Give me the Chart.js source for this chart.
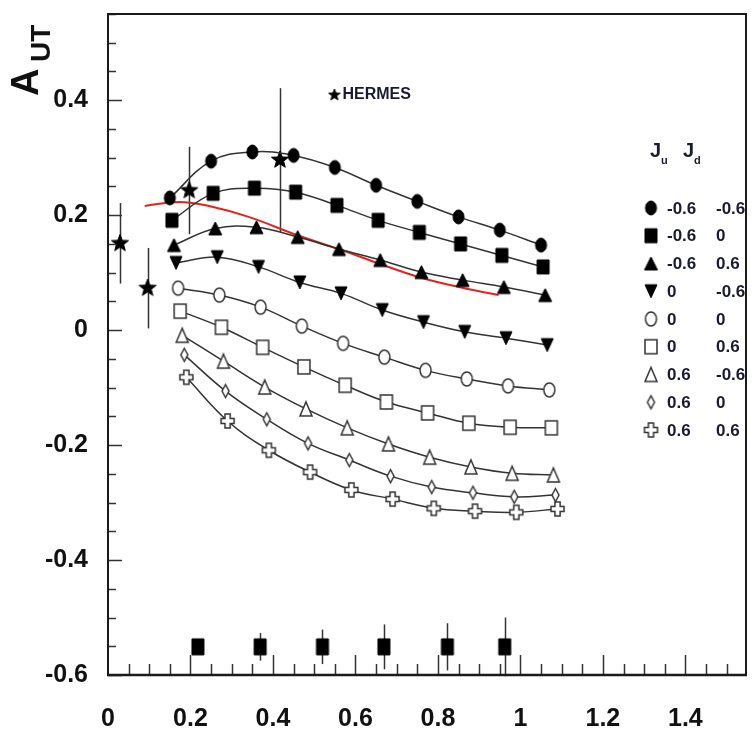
<!DOCTYPE html>
<html>
<head>
<meta charset="utf-8">
<script src="https://cdn.jsdelivr.net/npm/chart.js@4.4.1/dist/chart.umd.min.js"></script>
<style>
  html, body { margin: 0; padding: 0; background: #fff; }
  #wrap { width: 756px; height: 743px; }
</style>
</head>
<body>
<div id="wrap"><canvas id="chart" width="756" height="743"></canvas></div>
<script>
// model curves: common x grid, each curve drawn a little to the right of the previous one
const xModel = [0.15, 0.25, 0.35, 0.45, 0.55, 0.65, 0.75, 0.85, 0.95, 1.05];
const xShift = [0, 0.005, 0.01, 0.015, 0.02, 0.025, 0.03, 0.035, 0.04];

// legend values (J_u, J_d) for each curve
const jU = ['-0.6', '-0.6', '-0.6', '0', '0', '0', '0.6', '0.6', '0.6'];
const jD = ['-0.6', '0', '0.6', '-0.6', '0', '0.6', '-0.6', '0', '0.6'];

const aMM = [0.230, 0.294, 0.310, 0.304, 0.283, 0.252, 0.224, 0.197, 0.174, 0.148];
const aM0 = [0.191, 0.238, 0.247, 0.240, 0.217, 0.191, 0.170, 0.150, 0.130, 0.110];
const aMP = [0.148, 0.177, 0.179, 0.162, 0.141, 0.122, 0.101, 0.087, 0.075, 0.061];
const a0M = [0.117, 0.127, 0.110, 0.083, 0.064, 0.035, 0.014, -0.003, -0.014, -0.026];
const a00 = [0.073, 0.061, 0.040, 0.007, -0.023, -0.047, -0.070, -0.085, -0.097, -0.104];
const a0P = [0.033, 0.005, -0.030, -0.064, -0.096, -0.125, -0.144, -0.162, -0.169, -0.170];
const aPM = [-0.009, -0.054, -0.099, -0.137, -0.170, -0.198, -0.221, -0.238, -0.249, -0.252];
const aP0 = [-0.043, -0.106, -0.155, -0.197, -0.226, -0.254, -0.273, -0.283, -0.290, -0.287];
const aPP = [-0.082, -0.158, -0.209, -0.247, -0.278, -0.294, -0.310, -0.315, -0.317, -0.311];

// red curve
const redX = [0.089, 0.173, 0.245, 0.341, 0.460, 0.580, 0.652, 0.755, 0.851, 0.947];
const redY = [0.216, 0.223, 0.216, 0.197, 0.165, 0.136, 0.117, 0.092, 0.075, 0.061];

// HERMES points
const hermesX = [0.029, 0.096, 0.197, 0.417];
const hermesY = [0.151, 0.073, 0.243, 0.296];
const hermesErr = [0.070, 0.070, 0.076, 0.125];

// squares along the bottom
const binX = [0.218, 0.369, 0.520, 0.669, 0.823, 0.962];
const binY = [-0.551, -0.551, -0.551, -0.551, -0.551, -0.551];
const binErr = [0.012, 0.024, 0.030, 0.039, 0.041, 0.051];

const xTicks = [0, 0.2, 0.4, 0.6, 0.8, 1, 1.2, 1.4];
const xTickLabels = ['0', '0.2', '0.4', '0.6', '0.8', '1', '1.2', '1.4'];
const yTicks = [-0.6, -0.4, -0.2, 0, 0.2, 0.4];
const yTickLabels = ['-0.6', '-0.4', '-0.2', '0', '0.2', '0.4'];

function marker(shape, w, h, filled) {
  const pad = 3;
  const c = document.createElement('canvas');
  c.width = w + pad * 2;
  c.height = h + pad * 2;
  const g = c.getContext('2d');
  g.translate(c.width / 2, c.height / 2);
  const hw = w / 2, hh = h / 2;
  g.beginPath();
  if (shape === 'circle') {
    g.ellipse(0, 0, hw, hh, 0, 0, Math.PI * 2);
  } else if (shape === 'square') {
    g.rect(-hw, -hh, w, h);
  } else if (shape === 'up') {
    g.moveTo(0, -hh); g.lineTo(hw, hh); g.lineTo(-hw, hh); g.closePath();
  } else if (shape === 'down') {
    g.moveTo(0, hh); g.lineTo(hw, -hh); g.lineTo(-hw, -hh); g.closePath();
  } else if (shape === 'diamond') {
    g.moveTo(0, -hh); g.lineTo(hw, 0); g.lineTo(0, hh); g.lineTo(-hw, 0); g.closePath();
  } else if (shape === 'cross') {
    const t = w * 0.2, s = h * 0.18;
    g.moveTo(-t, -hh); g.lineTo(t, -hh); g.lineTo(t, -s); g.lineTo(hw, -s);
    g.lineTo(hw, s); g.lineTo(t, s); g.lineTo(t, hh); g.lineTo(-t, hh);
    g.lineTo(-t, s); g.lineTo(-hw, s); g.lineTo(-hw, -s); g.lineTo(-t, -s); g.closePath();
  } else if (shape === 'star') {
    for (let i = 0; i < 10; i++) {
      const r = i % 2 === 0 ? hw : hw * 0.42;
      const a = -Math.PI / 2 + i * Math.PI / 5;
      if (i === 0) g.moveTo(r * Math.cos(a), r * Math.sin(a));
      else g.lineTo(r * Math.cos(a), r * Math.sin(a));
    }
    g.closePath();
  }
  g.fillStyle = filled ? '#000' : '#fff';
  g.fill();
  g.lineWidth = filled ? 1 : 1.5;
  g.strokeStyle = filled ? '#000' : '#333';
  g.stroke();
  return c;
}

const markers = [
  marker('circle', 11, 14, true),
  marker('square', 12, 14, true),
  marker('up', 13, 13, true),
  marker('down', 12, 13, true),
  marker('circle', 11, 14, false),
  marker('square', 12, 14, false),
  marker('up', 12, 14, false),
  marker('diamond', 7, 13, false),
  marker('cross', 13, 14, false)
];
const starMarker = marker('star', 18, 18, true);
const smallStar = marker('star', 12, 12, true);
const binMarker = marker('square', 12, 16, true);

const curves = [aMM, aM0, aMP, a0M, a00, a0P, aPM, aP0, aPP];

const datasets = curves.map((vals, k) => ({
  label: 'Ju=' + jU[k] + ' Jd=' + jD[k],
  data: vals.map((v, i) => ({ x: xModel[i] + xShift[k], y: v })),
  showLine: true,
  borderColor: '#333',
  borderWidth: 1.5,
  tension: 0.4,
  pointStyle: markers[k],
  pointRadius: 7
}));

datasets.push({
  label: 'red',
  data: redX.map((x, i) => ({ x: x, y: redY[i] })),
  showLine: true,
  borderColor: '#e3241c',
  borderWidth: 2,
  tension: 0.4,
  pointRadius: 0
});

datasets.push({
  label: 'HERMES',
  data: hermesX.map((x, i) => ({ x: x, y: hermesY[i] })),
  errors: hermesErr,
  showLine: false,
  pointStyle: starMarker,
  pointRadius: 9
});

datasets.push({
  label: 'bins',
  data: binX.map((x, i) => ({ x: x, y: binY[i] })),
  errors: binErr,
  showLine: false,
  pointStyle: binMarker,
  pointRadius: 8
});

const decorations = {
  id: 'decorations',
  beforeDatasetsDraw(chart) {
    const g = chart.ctx;
    const xs = chart.scales.x, ys = chart.scales.y;
    g.save();
    g.strokeStyle = '#333';
    g.lineWidth = 1.5;
    chart.data.datasets.forEach(ds => {
      if (!ds.errors) return;
      ds.data.forEach((p, i) => {
        const px = Math.round(xs.getPixelForValue(p.x)) + 0.5;
        g.beginPath();
        g.moveTo(px, ys.getPixelForValue(p.y + ds.errors[i]));
        g.lineTo(px, ys.getPixelForValue(p.y - ds.errors[i]));
        g.stroke();
      });
    });
    g.restore();
  },
  afterDraw(chart) {
    const g = chart.ctx;
    const a = chart.chartArea;
    const xs = chart.scales.x, ys = chart.scales.y;
    g.save();
    // inward ticks
    g.strokeStyle = '#333';
    g.lineWidth = 1.5;
    for (let i = 0; i * 0.05 <= ys.max - ys.min + 1e-9; i++) {
      const v = ys.min + i * 0.05;
      const py = Math.round(ys.getPixelForValue(v)) + 0.5;
      const len = i % 4 === 0 ? 14 : 8;
      g.beginPath(); g.moveTo(a.left, py); g.lineTo(a.left + len, py); g.stroke();
    }
    for (let i = 1; i * 0.05 <= xs.max + 1e-9; i++) {
      const px = Math.round(xs.getPixelForValue(i * 0.05)) + 0.5;
      const len = i % 4 === 0 ? 20 : 11;
      g.beginPath(); g.moveTo(px, a.bottom); g.lineTo(px, a.bottom - len); g.stroke();
    }
    // frame
    g.strokeStyle = '#1a1a1a';
    g.lineWidth = 2;
    g.strokeRect(a.left, a.top, a.right - a.left, a.bottom - a.top);
    g.lineWidth = 2.5;
    g.beginPath(); g.moveTo(a.left - 1, a.bottom); g.lineTo(a.right + 1, a.bottom); g.stroke();

    // y title A_UT
    g.fillStyle = '#111';
    g.translate(38, 96);
    g.rotate(-Math.PI / 2);
    g.textBaseline = 'alphabetic';
    g.textAlign = 'left';
    g.font = 'bold 38px "Liberation Sans", Arial, sans-serif';
    g.fillText('A', 0, 0);
    g.font = 'bold 28px "Liberation Sans", Arial, sans-serif';
    g.fillText('UT', 34, 12);
    g.setTransform(1, 0, 0, 1, 0, 0);

    // HERMES key
    const hx = xs.getPixelForValue(0.549), hy = ys.getPixelForValue(0.409);
    g.drawImage(smallStar, hx - smallStar.width / 2, hy - smallStar.height / 2);
    g.font = 'bold 16px "Liberation Sans", Arial, sans-serif';
    g.textBaseline = 'middle';
    g.fillStyle = '#1b1b30';
    g.fillText('HERMES', hx + 8, hy);

    // J_u J_d legend
    g.font = 'bold 20px "Liberation Sans", Arial, sans-serif';
    g.textBaseline = 'alphabetic';
    g.fillText('J', 650, 157);
    g.fillText('J', 683, 157);
    g.font = 'bold 11px "Liberation Sans", Arial, sans-serif';
    g.fillText('u', 661, 164);
    g.fillText('d', 694, 164);
    g.font = 'bold 17px "Liberation Sans", Arial, sans-serif';
    g.textBaseline = 'middle';
    markers.forEach((m, k) => {
      const ry = 208 + k * 27.75;
      g.drawImage(m, 651 - m.width / 2, ry - m.height / 2);
      g.fillText(jU[k], 667, ry + 1);
      g.fillText(jD[k], 716, ry + 1);
    });
    g.restore();
  }
};

const tickFont = { family: '"Liberation Sans", Arial, sans-serif', size: 25, weight: 'bold' };

new Chart(document.getElementById('chart'), {
  type: 'scatter',
  data: { datasets: datasets },
  options: {
    responsive: false,
    animation: false,
    layout: { padding: { top: 14, right: 3, left: 0, bottom: 0 } },
    plugins: {
      legend: { display: false },
      tooltip: { enabled: false }
    },
    scales: {
      x: {
        type: 'linear',
        min: 0,
        max: 1.547,
        afterFit(s) {
          s.height = 68;
          s.paddingLeft = 0; s.paddingRight = 0;
        },
        afterBuildTicks(s) { s.ticks = xTicks.map(v => ({ value: v })); },
        grid: { display: false, drawTicks: false },
        border: { display: false },
        ticks: {
          padding: 29,
          color: '#111',
          font: tickFont,
          maxRotation: 0,
          autoSkip: false,
          callback: (v, i) => xTickLabels[i]
        }
      },
      y: {
        type: 'linear',
        min: -0.6,
        max: 0.55,
        afterFit(s) {
          s.width = 108;
          s.paddingTop = 0; s.paddingBottom = 0;
        },
        afterBuildTicks(s) { s.ticks = yTicks.map(v => ({ value: v })); },
        grid: { display: false, drawTicks: false },
        border: { display: false },
        ticks: {
          padding: 20,
          color: '#111',
          font: tickFont,
          autoSkip: false,
          callback: (v, i) => yTickLabels[i]
        }
      }
    }
  },
  plugins: [decorations]
});
</script>
</body>
</html>
